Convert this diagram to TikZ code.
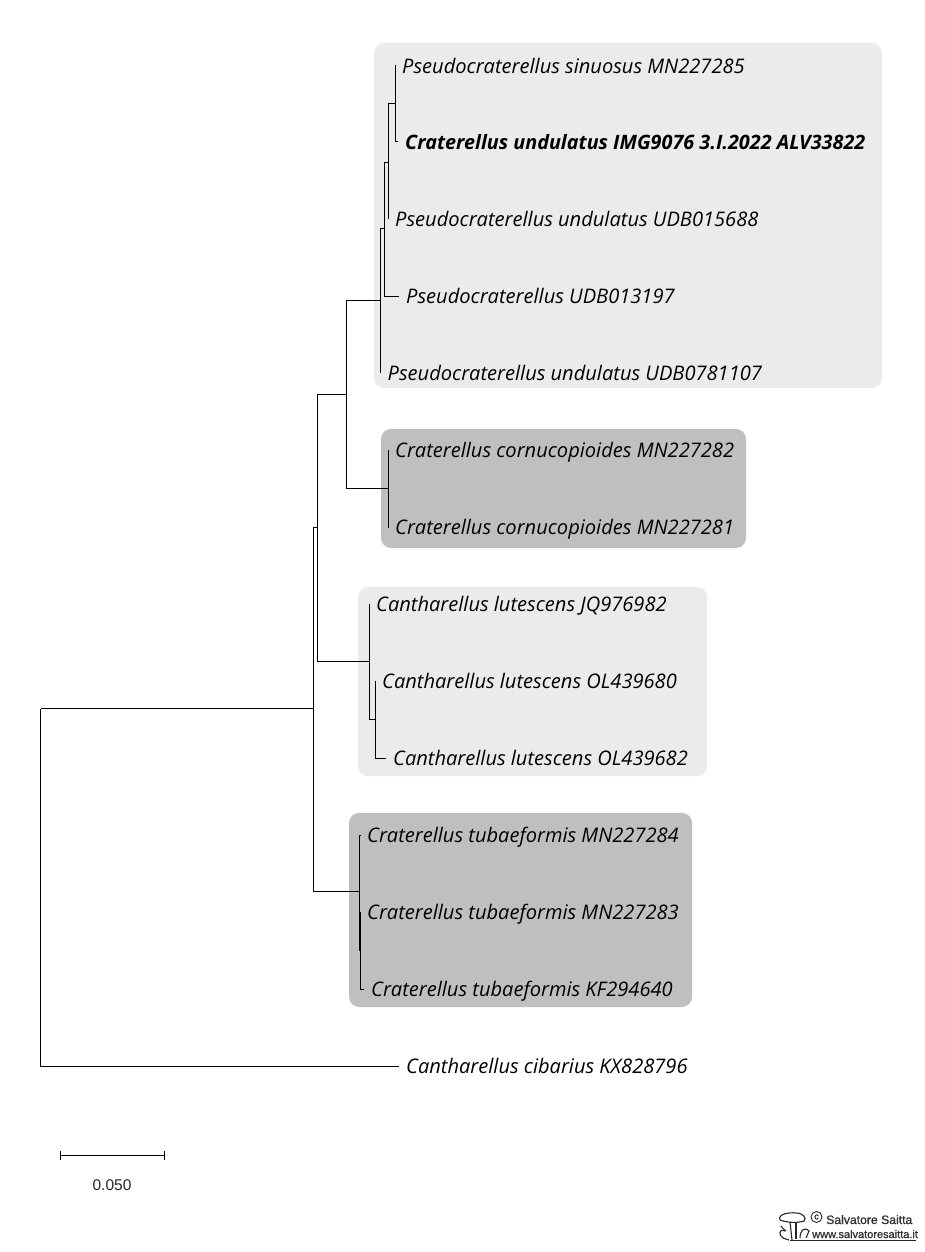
\documentclass[tikz,border=0pt]{standalone}
\usepackage{fontspec}
\setmainfont{Open Sans}
\newfontfamily\scalefont{Liberation Sans}
\newfontfamily\logofont[FakeBold=1.2]{Liberation Sans}
\usepackage{tikz}
\tikzset{
  branch/.style={black,line width=1pt},
  clade/.style={rounded corners=10pt},
  taxon/.style={anchor=west,inner xsep=7pt,inner ysep=0pt,text height=18pt,text depth=3pt,font=\fontsize{20.08}{24}\selectfont\itshape},
  logotext/.style={inner sep=0pt,anchor=base west,draw=none,text=black!80,font=\logofont\fontsize{12.2}{13}\selectfont},
  logoline/.style={line width=1.1pt,black!85}
}
\definecolor{cladelight}{HTML}{EBEBEB}
\definecolor{cladedark}{HTML}{BFBFBF}

\begin{document}
\begin{tikzpicture}[x=1pt,y=-1pt]
\useasboundingbox (0,0) rectangle (924,1252);

\fill[cladelight,clade] (374,43) rectangle (882,388);
\fill[cladedark,clade] (381,429) rectangle (746,548);
\fill[cladelight,clade] (358,587) rectangle (707,776);
\fill[cladedark,clade] (349,813) rectangle (692,1007);

\node[taxon] (sinuosus) at (395,66) {Pseudocraterellus sinuosus MN227285};
\node[taxon,font=\fontsize{19.8}{24}\selectfont\itshape\bfseries] (alv) at (398,142) {Craterellus undulatus IMG9076 3.I.2022 ALV33822};
\node[taxon] (undulatusa) at (388,219) {Pseudocraterellus undulatus UDB015688};
\node[taxon] (pseudo) at (399,296) {Pseudocraterellus UDB013197};
\node[taxon] (undulatusb) at (380.5,373) {Pseudocraterellus undulatus UDB0781107};
\node[taxon] (cornua) at (388,450) {Craterellus cornucopioides MN227282};
\node[taxon] (cornub) at (388,527) {Craterellus cornucopioides MN227281};
\node[taxon] (lutesa) at (369,604) {Cantharellus lutescens JQ976982};
\node[taxon] (lutesb) at (375,681) {Cantharellus lutescens OL439680};
\node[taxon] (lutesc) at (386,758) {Cantharellus lutescens OL439682};
\node[taxon] (tubaa) at (360,835) {Craterellus tubaeformis MN227284};
\node[taxon] (tubab) at (360,912) {Craterellus tubaeformis MN227283};
\node[taxon] (tubac) at (364,989) {Craterellus tubaeformis KF294640};
\node[taxon] (cibarius) at (399,1066) {Cantharellus cibarius KX828796};

\coordinate (root) at (40.5,708.5);
\coordinate (ingroup) at (313.5,708.5);
\coordinate (crat) at (317.5,527.5);
\coordinate (cratb) at (346.5,394.5);
\coordinate (pse) at (380.5,300.5);
\coordinate (pseb) at (384,228.5);
\coordinate (psec) at (388,162.5);
\coordinate (psed) at (395.5,103.5);
\coordinate (cornu) at (388.5,488.5);
\coordinate (lutes) at (369.5,661.5);
\coordinate (lutesub) at (375.5,719.5);
\coordinate (tuba) at (359.5,891.5);
\coordinate (tubasub) at (360.5,950.5);

\draw[branch] (root) |- (ingroup);
\draw[branch] (root) |- (cibarius.west);
\draw[branch] (ingroup) |- (crat);
\draw[branch] (ingroup) |- (tuba);
\draw[branch] (crat) |- (cratb);
\draw[branch] (crat) |- (lutes);
\draw[branch] (cratb) |- (pse);
\draw[branch] (cratb) |- (cornu);
\draw[branch] (pse) |- (pseb);
\draw[branch] (pse) |- (undulatusb.west);
\draw[branch] (pseb) |- (psec);
\draw[branch] (pseb) |- (pseudo.west);
\draw[branch] (psec) |- (psed);
\draw[branch] (psec) |- (undulatusa.west);
\draw[branch] (psed) |- (sinuosus.west);
\draw[branch] (psed) |- (alv.west);
\draw[branch] (cornu) |- (cornua.west);
\draw[branch] (cornu) |- (cornub.west);
\draw[branch] (lutes) |- (lutesa.west);
\draw[branch] (lutes) |- (lutesub);
\draw[branch] (lutesub) |- (lutesb.west);
\draw[branch] (lutesub) |- (lutesc.west);
\draw[branch] (tuba) |- (tubaa.west);
\draw[branch] (tuba) |- (tubasub);
\draw[branch] (tubasub) |- (tubab.west);
\draw[branch] (tubasub) |- (tubac.west);

\coordinate (barl) at (60.5,1155.5);
\coordinate (barr) at (164.5,1155.5);
\draw[branch] (barl) -- (barr);
\draw[branch] (60.5,1151) -- (60.5,1160);
\draw[branch] (164.5,1151) -- (164.5,1160);
\node[font=\scalefont\fontsize{15.5}{18}\selectfont,text=black!85,inner sep=0pt] (barlabel) at (112,1185) {0.050};

\draw[logoline,fill=white] (780,1220) .. controls (777,1214) and (790,1212) .. (796,1213) .. controls (803,1213) and (807,1218) .. (804,1221) .. controls (798,1223) and (788,1223) .. (780,1220);
\draw[logoline] (790,1222) -- (792,1240);
\draw[logoline] (796,1222) -- (796,1239);
\draw[logoline] (781,1226) .. controls (783,1229) and (785,1230) .. (786,1231);
\draw[logoline] (785,1231) .. controls (779,1228) and (778,1235) .. (783,1238) -- (789,1240);
\draw[logoline] (800,1238) .. controls (800,1231) and (804,1226) .. (809,1231) -- (806,1238);
\draw[line width=0.8pt,black!85] (790,1240.5) -- (916,1240.5);
\node[logotext] (logoname) at (826,1224) {Salvatore Saitta};
\node[logotext,font=\logofont\fontsize{11}{12}\selectfont] (logoweb) at (812,1238) {www.salvatoresaitta.it};
\node[draw=black!85,circle,line width=0.9pt,minimum size=11pt,inner sep=0pt,text=black!85,font=\logofont\fontsize{9}{9}\selectfont] (logomark) at (816.5,1217) {c};
\end{tikzpicture}
\end{document}
